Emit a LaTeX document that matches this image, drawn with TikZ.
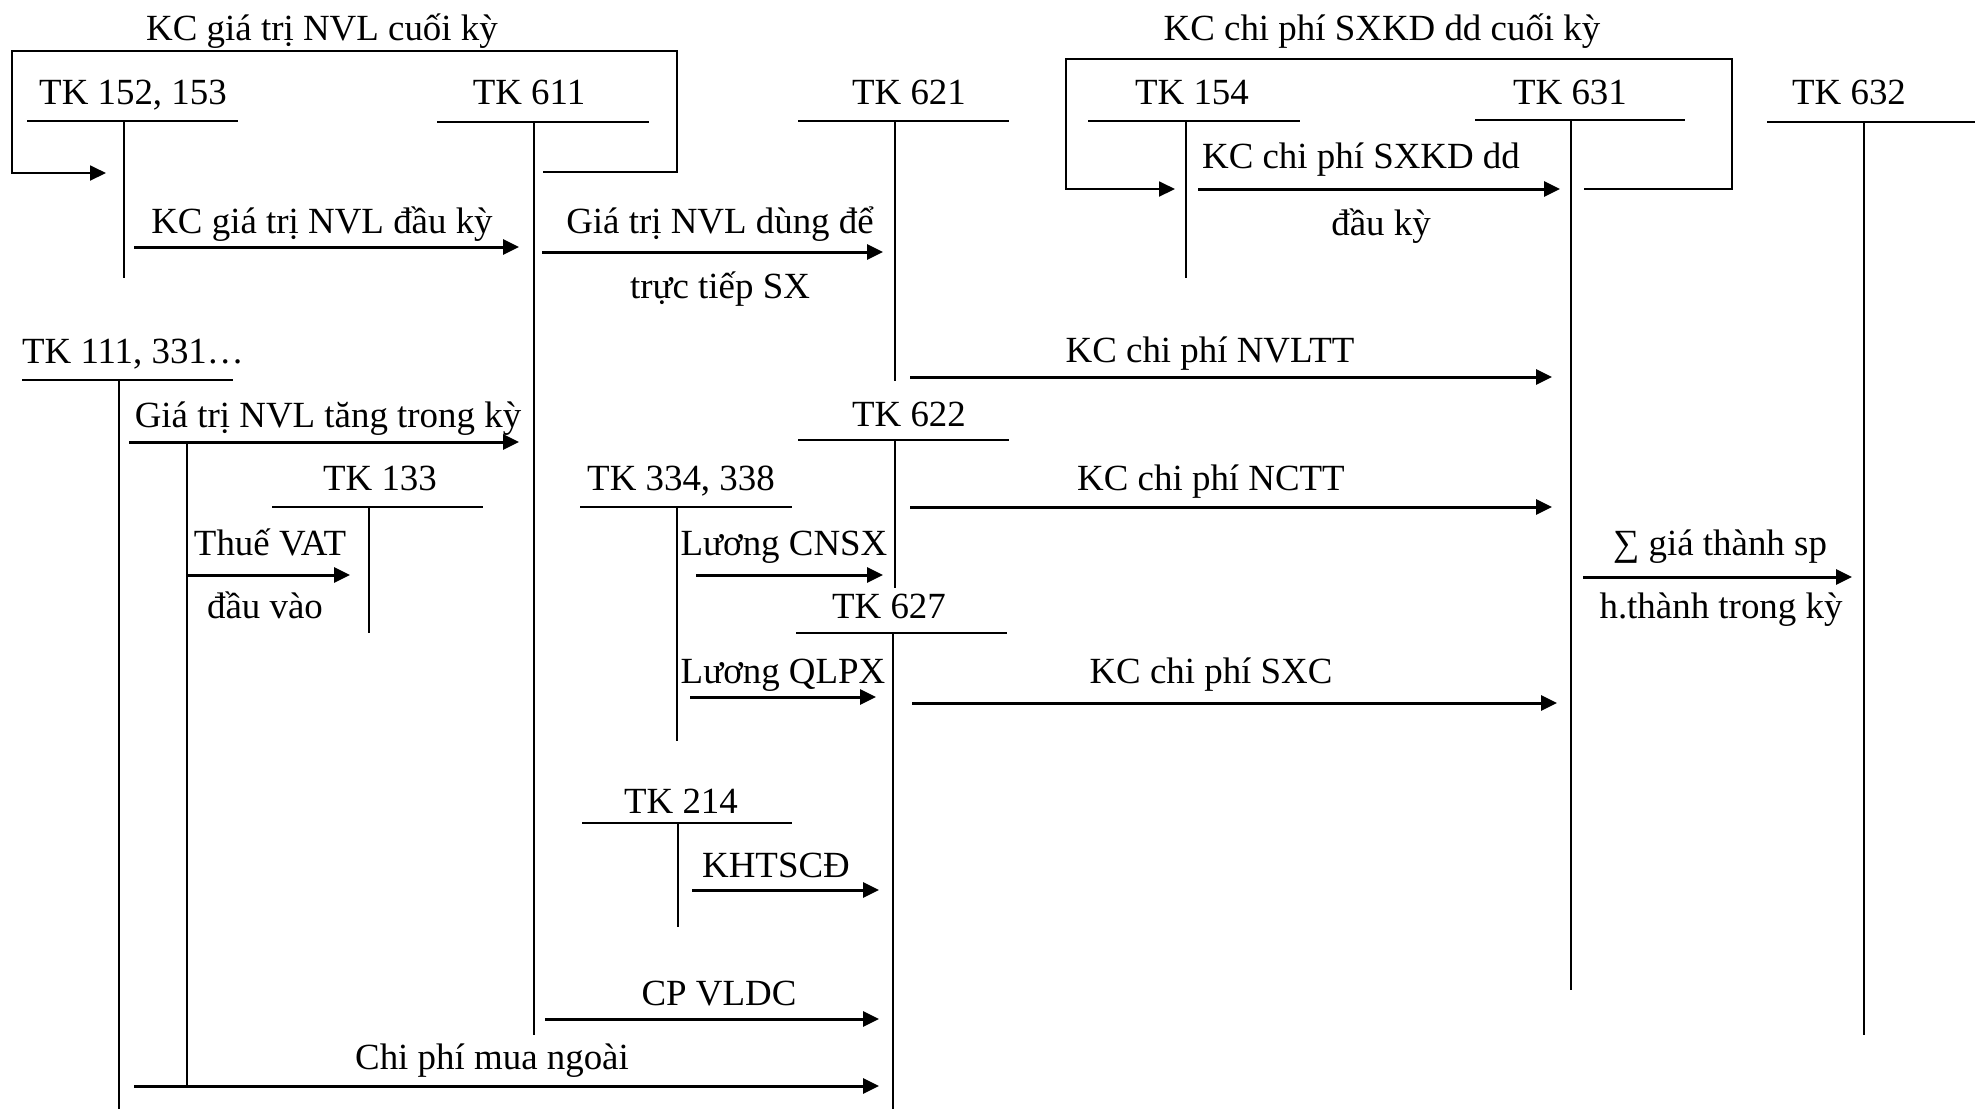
\documentclass[tikz,border=0pt]{standalone}
\usepackage{fontspec}
\setmainfont{Liberation Serif}
\usetikzlibrary{arrows.meta}

\begin{document}
\begin{tikzpicture}[x=0.1mm,y=-0.1mm,>={Triangle[length=1.6mm,width=1.5mm]},
  txt/.style={anchor=base,inner sep=0pt,font=\fontsize{10.5}{12}\selectfont},
  tline/.style={line width=0.5pt},
  flow/.style={line width=0.85pt,->},
  loopline/.style={line width=0.55pt,->}]
  \useasboundingbox (0,0) rectangle (1975,1109);
  % T accounts
  \node[txt] (tk152) at (133,104) {TK 152, 153};
  \draw[tline] (27,121) -- (238,121) (124,121) -- (124,278);
  \node[txt] (tk611) at (529,104) {TK 611};
  \draw[tline] (437,122) -- (649,122) (534,122) -- (534,1035);
  \node[txt] (tk621) at (909,104) {TK 621};
  \draw[tline] (798,121) -- (1009,121) (895,121) -- (895,381);
  \node[txt] (tk154) at (1192,104) {TK 154};
  \draw[tline] (1088,121) -- (1300,121) (1186,121) -- (1186,278);
  \node[txt] (tk631) at (1570,104) {TK 631};
  \draw[tline] (1475,120) -- (1685,120) (1571,120) -- (1571,990);
  \node[txt] (tk632) at (1849,104) {TK 632};
  \draw[tline] (1767,122) -- (1975,122) (1864,122) -- (1864,1035);
  \node[txt] (tk111) at (133,363) {TK 111, 331…};
  \draw[tline] (22,380) -- (233,380) (119,380) -- (119,1109);
  \node[txt] (tk133) at (380,490) {TK 133};
  \draw[tline] (272,507) -- (483,507) (369,507) -- (369,633);
  \node[txt] (tk334) at (681,490) {TK 334, 338};
  \draw[tline] (580,507) -- (792,507) (677,507) -- (677,741);
  \node[txt] (tk622) at (909,426) {TK 622};
  \draw[tline] (798,440) -- (1009,440) (895,440) -- (895,588);
  \node[txt] (tk627) at (889,618) {TK 627};
  \draw[tline] (796,633) -- (1007,633) (893,633) -- (893,1109);
  \node[txt] (tk214) at (681,813) {TK 214};
  \draw[tline] (582,823) -- (792,823) (678,823) -- (678,927);
  % branch for VAT
  \coordinate (vat-top) at (187,442);
  \coordinate (vat-bot) at (187,1086);
  \draw[tline] (vat-top) -- (vat-bot);

  % end-of-period loops
  \node[txt] (cuoi1) at (322,40) {KC giá trị NVL cuối kỳ};
  \coordinate (l1-s) at (543,172);
  \coordinate (l1-e) at (106,173);
  \draw[loopline] (l1-s) -| (677,51) -| (12,173) -- (l1-e);
  \node[txt] (cuoi2) at (1382,40) {KC chi phí SXKD dd cuối kỳ};
  \coordinate (l2-s) at (1584,189);
  \coordinate (l2-e) at (1175,189);
  \draw[loopline] (l2-s) -| (1732,59) -| (1066,189) -- (l2-e);

  % flows
  \coordinate (a1-s) at (134,247); \coordinate (a1-e) at (519,247);
  \draw[flow] (a1-s) -- (a1-e);
  \node[txt] (a1-t) at (322,233) {KC giá trị NVL đầu kỳ};
  \coordinate (a2-s) at (542,252); \coordinate (a2-e) at (883,252);
  \draw[flow] (a2-s) -- (a2-e);
  \node[txt] (a2-t) at (720,233) {Giá trị NVL dùng để};
  \node[txt] (a2-b) at (720,298) {trực tiếp SX};
  \coordinate (a3-s) at (1198,189); \coordinate (a3-e) at (1560,189);
  \draw[flow] (a3-s) -- (a3-e);
  \node[txt] (a3-t) at (1361,168) {KC chi phí SXKD dd};
  \node[txt] (a3-b) at (1381,235) {đầu kỳ};
  \coordinate (a4-s) at (910,377); \coordinate (a4-e) at (1552,377);
  \draw[flow] (a4-s) -- (a4-e);
  \node[txt] (a4-t) at (1210,362) {KC chi phí NVLTT};
  \coordinate (a5-s) at (129,442); \coordinate (a5-e) at (519,442);
  \draw[flow] (a5-s) -- (a5-e);
  \node[txt] (a5-t) at (328,427) {Giá trị NVL tăng trong kỳ};
  \coordinate (a6-s) at (910,507); \coordinate (a6-e) at (1552,507);
  \draw[flow] (a6-s) -- (a6-e);
  \node[txt] (a6-t) at (1211,490) {KC chi phí NCTT};
  \coordinate (a7-e) at (350,575);
  \draw[flow] (vat-top |- a7-e) -- (a7-e);
  \node[txt] (a7-t) at (270,555) {Thuế VAT};
  \node[txt] (a7-b) at (265,618) {đầu vào};
  \coordinate (a8-s) at (696,575); \coordinate (a8-e) at (883,575);
  \draw[flow] (a8-s) -- (a8-e);
  \node[txt] (a8-t) at (784,555) {Lương CNSX};
  \coordinate (a9-s) at (1583,577); \coordinate (a9-e) at (1852,577);
  \draw[flow] (a9-s) -- (a9-e);
  \node[txt] (a9-t) at (1720,555) {∑ giá thành sp};
  \node[txt] (a9-b) at (1721,618) {h.thành trong kỳ};
  \coordinate (a10-s) at (690,697); \coordinate (a10-e) at (876,697);
  \draw[flow] (a10-s) -- (a10-e);
  \node[txt] (a10-t) at (783,683) {Lương QLPX};
  \coordinate (a11-s) at (912,703); \coordinate (a11-e) at (1557,703);
  \draw[flow] (a11-s) -- (a11-e);
  \node[txt] (a11-t) at (1211,683) {KC chi phí SXC};
  \coordinate (a12-s) at (692,890); \coordinate (a12-e) at (879,890);
  \draw[flow] (a12-s) -- (a12-e);
  \node[txt] (a12-t) at (776,877) {KHTSCĐ};
  \coordinate (a13-s) at (545,1019); \coordinate (a13-e) at (879,1019);
  \draw[flow] (a13-s) -- (a13-e);
  \node[txt] (a13-t) at (719,1005) {CP VLDC};
  \coordinate (a14-s) at (134,1086); \coordinate (a14-e) at (879,1086);
  \draw[flow] (a14-s) -- (a14-e);
  \node[txt] (a14-t) at (492,1069) {Chi phí mua ngoài};
\end{tikzpicture}
\end{document}
